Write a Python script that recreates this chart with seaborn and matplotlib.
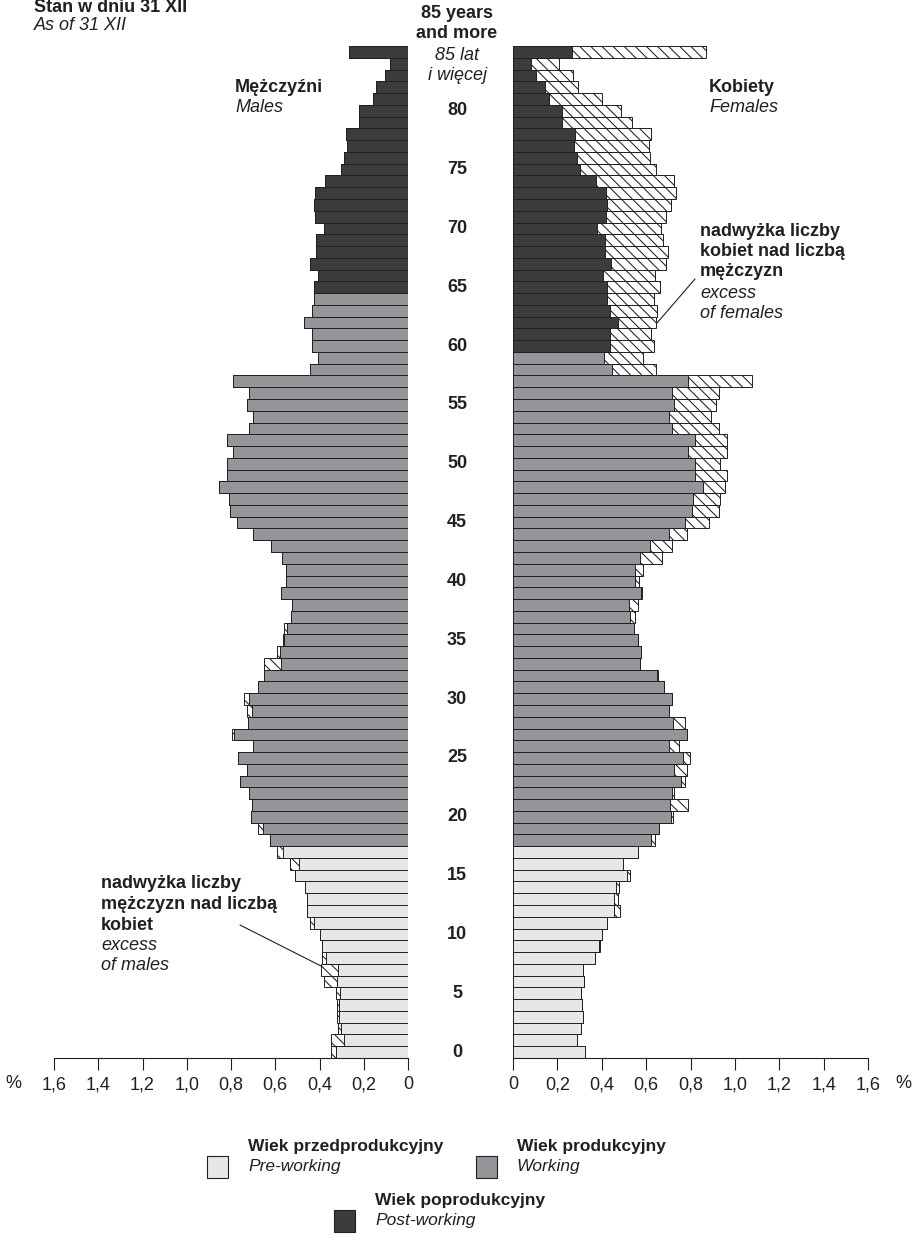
import numpy as np
import pandas as pd
import seaborn as sns
import matplotlib.pyplot as plt
from matplotlib.patches import Rectangle
from matplotlib.lines import Line2D

# Population by single year of age, % of total population (as of 31 XII)
ages = list(range(86))  # 85 = "85 years and more"

males = [0.347, 0.347, 0.315, 0.321, 0.321, 0.327, 0.378, 0.395, 0.389, 0.389,
         0.399, 0.441, 0.455, 0.455, 0.466, 0.512, 0.535, 0.591, 0.622, 0.680,
         0.711, 0.707, 0.717, 0.758, 0.726, 0.768, 0.702, 0.794, 0.722, 0.729,
         0.740, 0.680, 0.649, 0.649, 0.591, 0.564, 0.559, 0.529, 0.523, 0.575,
         0.550, 0.550, 0.571, 0.618, 0.702, 0.774, 0.805, 0.811, 0.856, 0.820,
         0.820, 0.790, 0.820, 0.717, 0.702, 0.726, 0.717, 0.790, 0.444, 0.408,
         0.435, 0.435, 0.471, 0.435, 0.423, 0.425, 0.405, 0.441, 0.414, 0.414,
         0.378, 0.420, 0.425, 0.420, 0.374, 0.304, 0.289, 0.274, 0.279, 0.221,
         0.221, 0.160, 0.145, 0.103, 0.081, 0.265]

females = [0.325, 0.290, 0.305, 0.314, 0.311, 0.307, 0.322, 0.317, 0.370, 0.392,
           0.401, 0.425, 0.480, 0.475, 0.478, 0.527, 0.494, 0.564, 0.641, 0.656,
           0.720, 0.787, 0.724, 0.777, 0.783, 0.796, 0.750, 0.785, 0.777, 0.704,
           0.718, 0.682, 0.655, 0.572, 0.577, 0.562, 0.547, 0.550, 0.565, 0.580,
           0.566, 0.587, 0.673, 0.718, 0.786, 0.885, 0.930, 0.934, 0.957, 0.966,
           0.933, 0.963, 0.966, 0.930, 0.892, 0.915, 0.930, 1.077, 0.644, 0.587,
           0.637, 0.622, 0.644, 0.650, 0.635, 0.661, 0.641, 0.688, 0.697, 0.678,
           0.666, 0.690, 0.714, 0.735, 0.727, 0.646, 0.617, 0.614, 0.620, 0.538,
           0.487, 0.403, 0.294, 0.272, 0.209, 0.868]

# economic age groups: working age starts at 18, post-working at 65 (M) / 60 (F)
working_from = 18
post_from_male = 65
post_from_female = 60

ticks = [0, 0.2, 0.4, 0.6, 0.8, 1.0, 1.2, 1.4, 1.6]
age_labels = list(range(0, 85, 5))

PRE, WORK, POST = '#e6e7e8', '#939598', '#3c3c3c'
EDGE = '#231f20'
palette = {'pre': PRE, 'work': WORK, 'post': POST}


def group(age, post_from):
    if age < working_from:
        return 'pre'
    if age < post_from:
        return 'work'
    return 'post'


df = pd.DataFrame({'age': ages, 'male': males, 'female': females})
df['base'] = np.minimum(df['male'], df['female'])
df['grp_m'] = [group(a, post_from_male) for a in ages]
df['grp_f'] = [group(a, post_from_female) for a in ages]

sns.set_theme(style='white')
plt.rcParams['font.family'] = ['Liberation Sans', 'DejaVu Sans']
plt.rcParams['hatch.linewidth'] = 0.75
plt.rcParams['hatch.color'] = EDGE

W, H = 918, 1240
fig = plt.figure(figsize=(W / 100, H / 100), dpi=100)


def fx(x):
    return x / W


def fy(y):
    return 1 - y / H


ax_top, ax_bot = 46, 1058
axl = fig.add_axes([fx(54), fy(ax_bot), fx(408) - fx(54), (ax_bot - ax_top) / H])
axr = fig.add_axes([fx(513), fy(ax_bot), fx(868) - fx(513), (ax_bot - ax_top) / H])

for ax, col, grp in [(axl, 'male', 'grp_m'), (axr, 'female', 'grp_f')]:
    # full bar, hatched: the visible part is the excess over the other sex
    sns.barplot(data=df, x=col, y='age', orient='h', order=ages, color='white',
                hatch='\\\\\\', edgecolor=EDGE, linewidth=0.7, width=1.0,
                errorbar=None, saturation=1, ax=ax)
    # common part coloured by economic age group
    sns.barplot(data=df, x='base', y='age', hue=grp, palette=palette, orient='h',
                order=ages, edgecolor=EDGE, linewidth=0.7, width=1.0,
                errorbar=None, saturation=1, legend=False, ax=ax)
    ax.set_ylim(-0.5, 85.5)
    ax.set_yticks([])
    ax.set_xlabel('')
    ax.set_ylabel('')
    ax.set_xticks(ticks)
    ax.set_xticklabels(['0' if t == 0 else f'{t:.1f}'.replace('.', ',') for t in ticks],
                       fontsize=13)
    ax.tick_params(axis='x', direction='out', length=8.5, width=0.8, color=EDGE,
                   pad=4.5, bottom=True, labelcolor=EDGE)
    for s in ['top', 'left', 'right']:
        ax.spines[s].set_visible(False)
    ax.spines['bottom'].set_color(EDGE)
    ax.spines['bottom'].set_linewidth(0.8)
    ax.patch.set_alpha(0)

axl.set_xlim(1.6, 0)
axr.set_xlim(0, 1.6)


def ftext(x, y, s, **kw):
    kw.setdefault('va', 'center')
    kw.setdefault('color', EDGE)
    kw.setdefault('fontsize', 13)
    fig.text(fx(x), fy(y), s, **kw)


# percent signs at axis ends
ftext(13, 1083, '%', ha='center')
ftext(903, 1083, '%', ha='center')

# age labels in the middle
row_h = (ax_bot - ax_top) / 86
for a in age_labels:
    ftext(457, ax_bot - (a + 0.5) * row_h, str(a), ha='center', fontweight='bold')
ftext(457, 13, '85 years', ha='center', fontweight='bold')
ftext(457, 33, 'and more', ha='center', fontweight='bold')
ftext(457, 55, '85 lat', ha='center', style='italic')
ftext(457, 75, 'i więcej', ha='center', style='italic')

# header
ftext(34, 8, 'Stan w dniu 31 XII', fontweight='bold')
ftext(34, 26, 'As of 31 XII', style='italic')

ftext(235, 87, 'Mężczyźni', fontweight='bold')
ftext(235, 107, 'Males', style='italic')
ftext(709, 87, 'Kobiety', fontweight='bold')
ftext(709, 107, 'Females', style='italic')

# annotations
for i, s in enumerate(['nadwyżka liczby', 'kobiet nad liczbą', 'mężczyzn']):
    ftext(700, 232 + 20 * i, s, fontweight='bold')
ftext(700, 293, 'excess', style='italic')
ftext(700, 313, 'of females', style='italic')
fig.add_artist(Line2D([fx(695), fx(657)], [fy(279), fy(323)], color=EDGE, lw=0.8))

for i, s in enumerate(['nadwyżka liczby', 'mężczyzn nad liczbą', 'kobiet']):
    ftext(101, 884 + 20.5 * i, s, fontweight='bold')
ftext(101, 945, 'excess', style='italic')
ftext(101, 966, 'of males', style='italic')
fig.add_artist(Line2D([fx(240), fx(321)], [fy(925), fy(966)], color=EDGE, lw=0.8))

# legend
legend_items = [
    (207, 1156, PRE, 'Wiek przedprodukcyjny', 'Pre-working'),
    (476, 1156, WORK, 'Wiek produkcyjny', 'Working'),
    (334, 1210, POST, 'Wiek poprodukcyjny', 'Post-working'),
]
for x, y, c, pl, en in legend_items:
    fig.add_artist(Rectangle((fx(x), fy(y + 22)), 21 / W, 22 / H, transform=fig.transFigure,
                             facecolor=c, edgecolor=EDGE, lw=0.8))
    ftext(x + 41, y - 10, pl, fontweight='bold', fontsize=12.5)
    ftext(x + 41, y + 10, en, style='italic', fontsize=12.5)

fig.savefig('out.png', dpi=100, facecolor='white')
